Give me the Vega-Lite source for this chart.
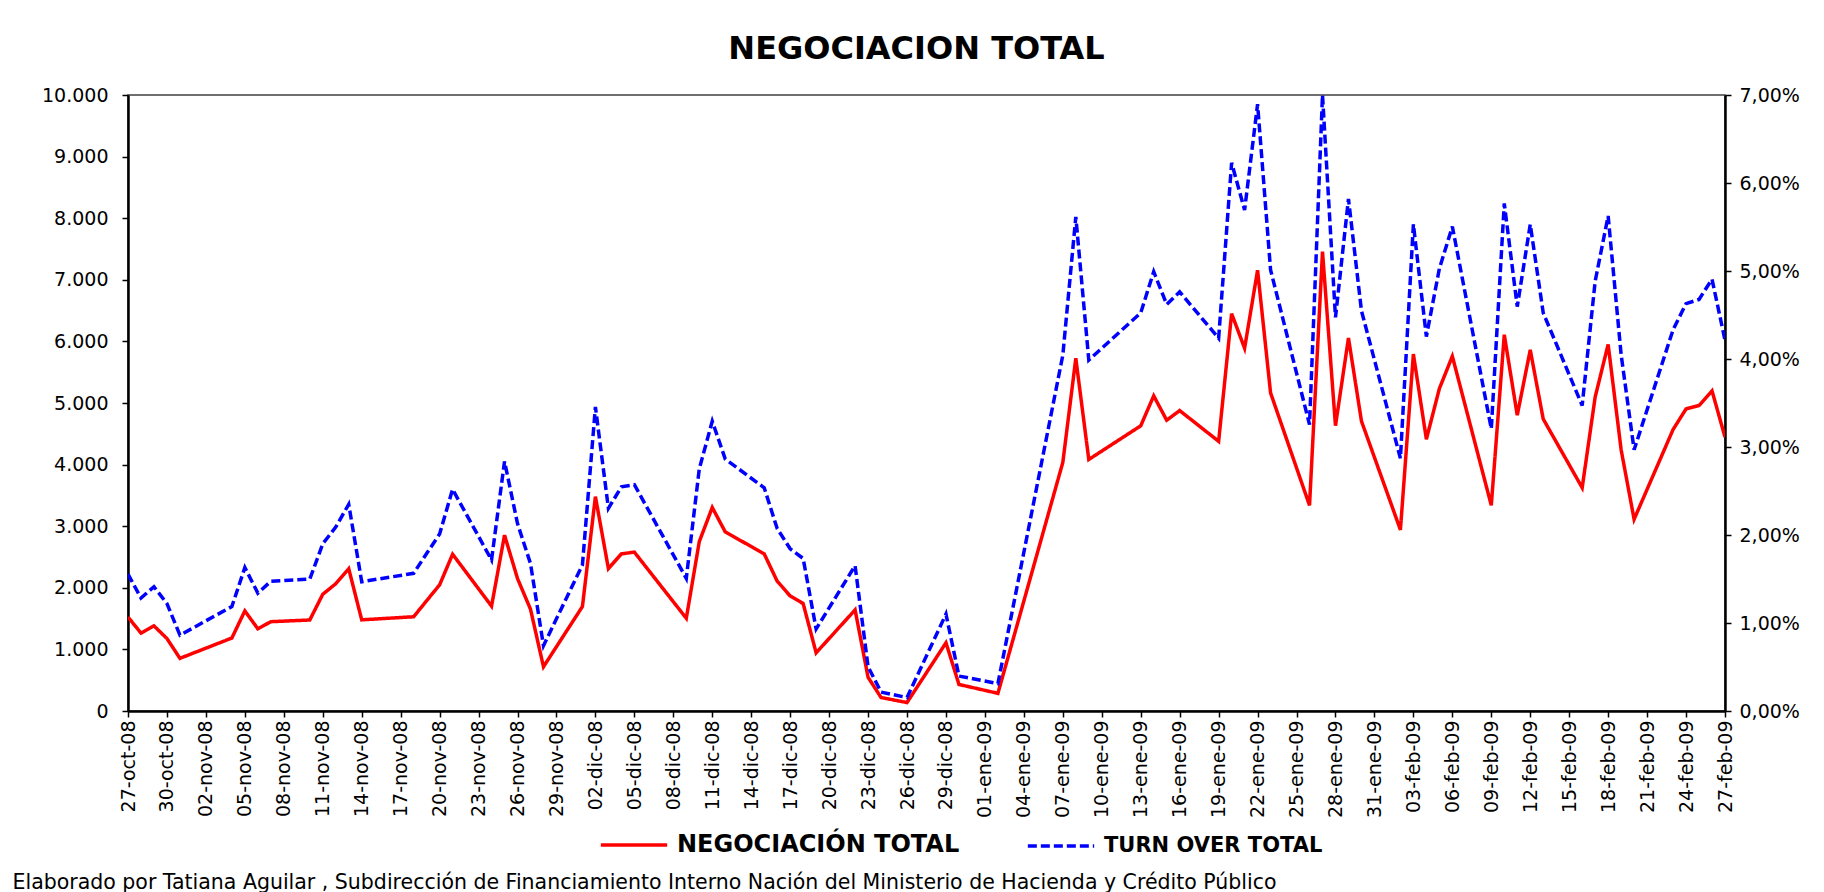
{
  "$schema": "https://vega.github.io/schema/vega-lite/v6.json",
  "width": 1597,
  "height": 616,
  "autosize": {"type": "none"},
  "padding": {"left": 128, "top": 95, "right": 99, "bottom": 181},
  "background": "white",
  "title": {"text": "NEGOCIACION TOTAL", "font": "DejaVu Sans", "fontSize": 32, "fontWeight": "bold", "color": "black", "anchor": "middle", "frame": "group", "baseline": "alphabetic", "offset": -5, "dx": -10},
  "data": {"values": [
    {"fecha": "2008-10-27", "negociacion": 1525, "turnover": 0.01556},
    {"fecha": "2008-10-28", "negociacion": 1265, "turnover": 0.01283},
    {"fecha": "2008-10-29", "negociacion": 1382, "turnover": 0.01412},
    {"fecha": "2008-10-30", "negociacion": 1176, "turnover": 0.01220},
    {"fecha": "2008-10-31", "negociacion": 855, "turnover": 0.00862},
    {"fecha": "2008-11-04", "negociacion": 1185, "turnover": 0.01187},
    {"fecha": "2008-11-05", "negociacion": 1625, "turnover": 0.01630},
    {"fecha": "2008-11-06", "negociacion": 1334, "turnover": 0.01340},
    {"fecha": "2008-11-07", "negociacion": 1450, "turnover": 0.01474},
    {"fecha": "2008-11-10", "negociacion": 1477, "turnover": 0.01498},
    {"fecha": "2008-11-11", "negociacion": 1895, "turnover": 0.01900},
    {"fecha": "2008-11-12", "negociacion": 2066, "turnover": 0.02090},
    {"fecha": "2008-11-13", "negociacion": 2310, "turnover": 0.02349},
    {"fecha": "2008-11-14", "negociacion": 1480, "turnover": 0.01469},
    {"fecha": "2008-11-18", "negociacion": 1530, "turnover": 0.01565},
    {"fecha": "2008-11-19", "negociacion": 1790, "turnover": 0.01790},
    {"fecha": "2008-11-20", "negociacion": 2048, "turnover": 0.02011},
    {"fecha": "2008-11-21", "negociacion": 2545, "turnover": 0.02519},
    {"fecha": "2008-11-24", "negociacion": 1702, "turnover": 0.01716},
    {"fecha": "2008-11-25", "negociacion": 2855, "turnover": 0.02836},
    {"fecha": "2008-11-26", "negociacion": 2150, "turnover": 0.02130},
    {"fecha": "2008-11-27", "negociacion": 1653, "turnover": 0.01675},
    {"fecha": "2008-11-28", "negociacion": 718, "turnover": 0.00742},
    {"fecha": "2008-12-01", "negociacion": 1696, "turnover": 0.01660},
    {"fecha": "2008-12-02", "negociacion": 3480, "turnover": 0.03455},
    {"fecha": "2008-12-03", "negociacion": 2312, "turnover": 0.02303},
    {"fecha": "2008-12-04", "negociacion": 2551, "turnover": 0.02547},
    {"fecha": "2008-12-05", "negociacion": 2579, "turnover": 0.02571},
    {"fecha": "2008-12-09", "negociacion": 1505, "turnover": 0.01508},
    {"fecha": "2008-12-10", "negociacion": 2750, "turnover": 0.02752},
    {"fecha": "2008-12-11", "negociacion": 3304, "turnover": 0.03293},
    {"fecha": "2008-12-12", "negociacion": 2907, "turnover": 0.02863},
    {"fecha": "2008-12-15", "negociacion": 2551, "turnover": 0.02537},
    {"fecha": "2008-12-16", "negociacion": 2107, "turnover": 0.02073},
    {"fecha": "2008-12-17", "negociacion": 1867, "turnover": 0.01843},
    {"fecha": "2008-12-18", "negociacion": 1744, "turnover": 0.01733},
    {"fecha": "2008-12-19", "negociacion": 944, "turnover": 0.00933},
    {"fecha": "2008-12-22", "negociacion": 1642, "turnover": 0.01651},
    {"fecha": "2008-12-23", "negociacion": 547, "turnover": 0.00503},
    {"fecha": "2008-12-24", "negociacion": 219, "turnover": 0.00215},
    {"fecha": "2008-12-26", "negociacion": 137, "turnover": 0.00153},
    {"fecha": "2008-12-29", "negociacion": 1108, "turnover": 0.01101},
    {"fecha": "2008-12-30", "negociacion": 431, "turnover": 0.00397},
    {"fecha": "2009-01-02", "negociacion": 287, "turnover": 0.00311},
    {"fecha": "2009-01-07", "negociacion": 4036, "turnover": 0.04045},
    {"fecha": "2009-01-08", "negociacion": 5725, "turnover": 0.05615},
    {"fecha": "2009-01-09", "negociacion": 4083, "turnover": 0.03988},
    {"fecha": "2009-01-13", "negociacion": 4630, "turnover": 0.04524},
    {"fecha": "2009-01-14", "negociacion": 5116, "turnover": 0.04993},
    {"fecha": "2009-01-15", "negociacion": 4720, "turnover": 0.04620},
    {"fecha": "2009-01-16", "negociacion": 4877, "turnover": 0.04763},
    {"fecha": "2009-01-19", "negociacion": 4378, "turnover": 0.04236},
    {"fecha": "2009-01-20", "negociacion": 6450, "turnover": 0.06230},
    {"fecha": "2009-01-21", "negociacion": 5890, "turnover": 0.05693},
    {"fecha": "2009-01-22", "negociacion": 7155, "turnover": 0.06895},
    {"fecha": "2009-01-23", "negociacion": 5164, "turnover": 0.05012},
    {"fecha": "2009-01-26", "negociacion": 3338, "turnover": 0.03255},
    {"fecha": "2009-01-27", "negociacion": 7456, "turnover": 0.07000},
    {"fecha": "2009-01-28", "negociacion": 4631, "turnover": 0.04473},
    {"fecha": "2009-01-29", "negociacion": 6056, "turnover": 0.05820},
    {"fecha": "2009-01-30", "negociacion": 4706, "turnover": 0.04548},
    {"fecha": "2009-02-02", "negociacion": 2941, "turnover": 0.02872},
    {"fecha": "2009-02-03", "negociacion": 5794, "turnover": 0.05531},
    {"fecha": "2009-02-04", "negociacion": 4412, "turnover": 0.04255},
    {"fecha": "2009-02-05", "negociacion": 5233, "turnover": 0.05026},
    {"fecha": "2009-02-06", "negociacion": 5759, "turnover": 0.05505},
    {"fecha": "2009-02-09", "negociacion": 3338, "turnover": 0.03207},
    {"fecha": "2009-02-10", "negociacion": 6108, "turnover": 0.05768},
    {"fecha": "2009-02-11", "negociacion": 4802, "turnover": 0.04595},
    {"fecha": "2009-02-12", "negociacion": 5862, "turnover": 0.05529},
    {"fecha": "2009-02-13", "negociacion": 4740, "turnover": 0.04524},
    {"fecha": "2009-02-16", "negociacion": 3625, "turnover": 0.03471},
    {"fecha": "2009-02-17", "negociacion": 5096, "turnover": 0.04883},
    {"fecha": "2009-02-18", "negociacion": 5951, "turnover": 0.05625},
    {"fecha": "2009-02-19", "negociacion": 4241, "turnover": 0.04050},
    {"fecha": "2009-02-20", "negociacion": 3112, "turnover": 0.02968},
    {"fecha": "2009-02-23", "negociacion": 4569, "turnover": 0.04332},
    {"fecha": "2009-02-24", "negociacion": 4904, "turnover": 0.04629},
    {"fecha": "2009-02-25", "negociacion": 4959, "turnover": 0.04677},
    {"fecha": "2009-02-26", "negociacion": 5198, "turnover": 0.04907},
    {"fecha": "2009-02-27", "negociacion": 4446, "turnover": 0.04213}
  ]},
  "encoding": {
    "x": {
      "field": "fecha",
      "type": "temporal",
      "scale": {"type": "utc", "nice": false, "domain": [{"year": 2008, "month": 10, "date": 27, "utc": true}, {"year": 2009, "month": 2, "date": 27, "utc": true}]},
      "axis": {
        "values": [
          {"year": 2008, "month": 10, "date": 27, "utc": true},
          {"year": 2008, "month": 10, "date": 30, "utc": true},
          {"year": 2008, "month": 11, "date": 2, "utc": true},
          {"year": 2008, "month": 11, "date": 5, "utc": true},
          {"year": 2008, "month": 11, "date": 8, "utc": true},
          {"year": 2008, "month": 11, "date": 11, "utc": true},
          {"year": 2008, "month": 11, "date": 14, "utc": true},
          {"year": 2008, "month": 11, "date": 17, "utc": true},
          {"year": 2008, "month": 11, "date": 20, "utc": true},
          {"year": 2008, "month": 11, "date": 23, "utc": true},
          {"year": 2008, "month": 11, "date": 26, "utc": true},
          {"year": 2008, "month": 11, "date": 29, "utc": true},
          {"year": 2008, "month": 12, "date": 2, "utc": true},
          {"year": 2008, "month": 12, "date": 5, "utc": true},
          {"year": 2008, "month": 12, "date": 8, "utc": true},
          {"year": 2008, "month": 12, "date": 11, "utc": true},
          {"year": 2008, "month": 12, "date": 14, "utc": true},
          {"year": 2008, "month": 12, "date": 17, "utc": true},
          {"year": 2008, "month": 12, "date": 20, "utc": true},
          {"year": 2008, "month": 12, "date": 23, "utc": true},
          {"year": 2008, "month": 12, "date": 26, "utc": true},
          {"year": 2008, "month": 12, "date": 29, "utc": true},
          {"year": 2009, "month": 1, "date": 1, "utc": true},
          {"year": 2009, "month": 1, "date": 4, "utc": true},
          {"year": 2009, "month": 1, "date": 7, "utc": true},
          {"year": 2009, "month": 1, "date": 10, "utc": true},
          {"year": 2009, "month": 1, "date": 13, "utc": true},
          {"year": 2009, "month": 1, "date": 16, "utc": true},
          {"year": 2009, "month": 1, "date": 19, "utc": true},
          {"year": 2009, "month": 1, "date": 22, "utc": true},
          {"year": 2009, "month": 1, "date": 25, "utc": true},
          {"year": 2009, "month": 1, "date": 28, "utc": true},
          {"year": 2009, "month": 1, "date": 31, "utc": true},
          {"year": 2009, "month": 2, "date": 3, "utc": true},
          {"year": 2009, "month": 2, "date": 6, "utc": true},
          {"year": 2009, "month": 2, "date": 9, "utc": true},
          {"year": 2009, "month": 2, "date": 12, "utc": true},
          {"year": 2009, "month": 2, "date": 15, "utc": true},
          {"year": 2009, "month": 2, "date": 18, "utc": true},
          {"year": 2009, "month": 2, "date": 21, "utc": true},
          {"year": 2009, "month": 2, "date": 24, "utc": true},
          {"year": 2009, "month": 2, "date": 27, "utc": true}
        ],
        "format": "%d-%b-%y",
        "labelAngle": -90,
        "labelFont": "DejaVu Sans",
        "labelFontSize": 19,
        "labelColor": "black",
        "labelPadding": 3,
        "labelOverlap": false,
        "labelFlush": false,
        "labelBound": false,
        "tickSize": 6,
        "tickColor": "black",
        "tickWidth": 1.5,
        "domainColor": "black",
        "domainWidth": 2.5,
        "grid": false,
        "title": "Elaborado por Tatiana Aguilar , Subdirección de Financiamiento Interno Nación del Ministerio de Hacienda y Crédito Público",
        "titleFont": "DejaVu Sans",
        "titleFontSize": 20.5,
        "titleFontWeight": "normal",
        "titleColor": "black",
        "titleAngle": 0,
        "titleAlign": "left",
        "titleBaseline": "alphabetic",
        "titleAnchor": "start",
        "titleX": -116,
        "titleY": 177
      }
    }
  },
  "layer": [
    {
      "mark": {"type": "line", "strokeWidth": 3.5, "clip": true},
      "encoding": {
        "y": {
          "field": "negociacion",
          "type": "quantitative",
          "scale": {"domain": [0, 10000], "nice": false},
          "axis": {
            "orient": "left",
            "title": null,
            "values": [0, 1000, 2000, 3000, 4000, 5000, 6000, 7000, 8000, 9000, 10000],
            "format": ",.0f",
            "grid": false,
            "domainColor": "black",
            "domainWidth": 2.5,
            "tickColor": "black",
            "tickSize": 6,
            "tickWidth": 1.5,
            "labelFont": "DejaVu Sans",
            "labelFontSize": 19,
            "labelColor": "black",
            "labelPadding": 14
          }
        },
        "color": {
          "datum": "NEGOCIACIÓN TOTAL",
          "scale": {"domain": ["NEGOCIACIÓN TOTAL", "TURN OVER TOTAL"], "range": ["#FF0000", "#0000FF"]},
          "legend": {"title": null, "orient": "none", "legendX": 471, "legendY": 715, "direction": "horizontal", "symbolType": "stroke", "symbolSize": 4400, "symbolStrokeWidth": 3.5, "labelFont": "DejaVu Sans", "labelFontWeight": "bold", "labelColor": "black", "labelFontSize": {"expr": "datum.label == 'TURN OVER TOTAL' ? 21 : 24"}, "labelOffset": 8, "columnPadding": 60, "padding": 0, "labelLimit": 600}
        },
        "strokeDash": {
          "datum": "NEGOCIACIÓN TOTAL",
          "scale": {"domain": ["NEGOCIACIÓN TOTAL", "TURN OVER TOTAL"], "range": [[1, 0], [9, 4]]},
          "legend": {"title": null, "orient": "none", "legendX": 471, "legendY": 715, "direction": "horizontal", "symbolType": "stroke", "symbolSize": 4400, "symbolStrokeWidth": 3.5, "labelFont": "DejaVu Sans", "labelFontWeight": "bold", "labelColor": "black", "labelFontSize": {"expr": "datum.label == 'TURN OVER TOTAL' ? 21 : 24"}, "labelOffset": 8, "columnPadding": 60, "padding": 0, "labelLimit": 600}
        }
      }
    },
    {
      "mark": {"type": "line", "strokeWidth": 3.5, "clip": true},
      "encoding": {
        "y": {
          "field": "turnover",
          "type": "quantitative",
          "scale": {"domain": [0, 0.07], "nice": false},
          "axis": {
            "orient": "right",
            "title": null,
            "values": [0, 0.01, 0.02, 0.03, 0.04, 0.05, 0.06, 0.07],
            "format": ".2%",
            "grid": false,
            "domainColor": "black",
            "domainWidth": 2.5,
            "tickColor": "black",
            "tickSize": 6,
            "tickWidth": 1.5,
            "labelFont": "DejaVu Sans",
            "labelFontSize": 19,
            "labelColor": "black",
            "labelPadding": 8
          }
        },
        "color": {"datum": "TURN OVER TOTAL"},
        "strokeDash": {"datum": "TURN OVER TOTAL"}
      }
    }
  ],
  "resolve": {"scale": {"y": "independent"}},
  "config": {
    "font": "DejaVu Sans",
    "view": {"stroke": "#404040", "strokeWidth": 1.5},
    "locale": {
      "number": {"decimal": ",", "thousands": ".", "grouping": [3], "currency": ["$", ""]},
      "time": {
        "dateTime": "%A, %e de %B de %Y, %X",
        "date": "%d/%m/%Y",
        "time": "%H:%M:%S",
        "periods": ["AM", "PM"],
        "days": ["domingo", "lunes", "martes", "miércoles", "jueves", "viernes", "sábado"],
        "shortDays": ["dom", "lun", "mar", "mié", "jue", "vie", "sáb"],
        "months": ["enero", "febrero", "marzo", "abril", "mayo", "junio", "julio", "agosto", "septiembre", "octubre", "noviembre", "diciembre"],
        "shortMonths": ["ene", "feb", "mar", "abr", "may", "jun", "jul", "ago", "sep", "oct", "nov", "dic"]
      }
    }
  }
}
